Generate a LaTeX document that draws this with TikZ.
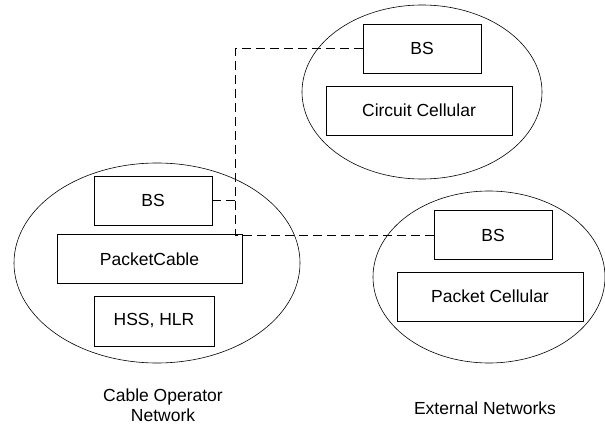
\documentclass[tikz,border=0pt]{standalone}
\usepackage{fontspec}
\setmainfont{Liberation Sans}

\begin{document}
\begin{tikzpicture}[x=1pt,y=-1pt,
		box/.style={draw, line width=0.8pt, minimum height=49pt, inner sep=0pt, font=\fontsize{17.5}{20}\selectfont},
		smallbox/.style={box, minimum width=118pt},
		widebox/.style={box, minimum width=186pt},
		net/.style={line width=0.6pt},
		link/.style={line width=1pt, dash pattern=on 9pt off 5pt},
		caption/.style={align=center, font=\fontsize{17.5}{20}\selectfont}
	]
	\useasboundingbox (0,0) rectangle (605,428);
	
	% networks
	\draw[net] (157,263) ellipse [x radius=143, y radius=100];
	\draw[net] (422,92) ellipse [x radius=120, y radius=87];
	\draw[net] (489,277) ellipse [x radius=116, y radius=86];
	
	% cable operator network
	\node[smallbox] (bsCable) at (153,200.5) {BS};
	\node[widebox, minimum width=185pt] (packetCable) at (149.5,259) {PacketCable};
	\node[box, minimum width=120pt, minimum height=50pt] (hss) at (154,321) {HSS, HLR};
	
	% circuit cellular
	\node[smallbox] (bsCircuit) at (422,48.5) {BS};
	\node[widebox] (circuit) at (419,110.5) {Circuit Cellular};
	
	% packet cellular
	\node[smallbox] (bsPacket) at (493,235) {BS};
	\node[widebox] (packet) at (490,296.5) {Packet Cellular};
	
	% links
	\coordinate (junction) at (235,235);
	\draw[link] (bsCircuit.west) -| (junction) -- (bsPacket.west);
	\draw[link] (bsCable.east) -- (bsCable.east -| junction);
	
	\node[caption] (capCable) at (163,405) {Cable Operator\\Network};
	\node[caption] (capExternal) at (485,408) {External Networks};
\end{tikzpicture}
\end{document}
